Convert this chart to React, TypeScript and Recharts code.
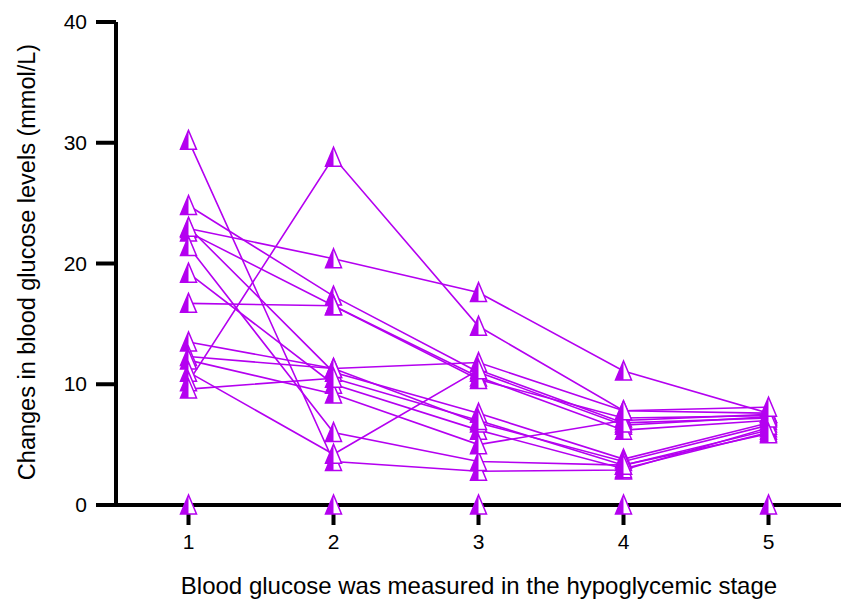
import React from 'react';
import { LineChart, Line, XAxis, YAxis, Label } from 'recharts';

// hypoglycemic stages on the x axis
const stages = [1, 2, 3, 4, 5];
const yTicks = [0, 10, 20, 30, 40];

// blood glucose (mmol/L) per subject, one value per stage
const subject01 = [30.2, 3.6, 2.8, 2.9, 6.4];
const subject02 = [24.8, 17.3, 11.0, 6.6, 7.3];
const subject03 = [22.9, 20.4, 17.6, 11.1, 7.6];
const subject04 = [22.6, 16.5, 10.6, 6.2, 7.0];
const subject05 = [23.0, 11.0, 7.6, 3.8, 6.8];
const subject06 = [21.4, 6.0, 3.6, 3.3, 6.2];
const subject07 = [19.2, 10.0, 6.2, 3.0, 6.0];
const subject08 = [16.7, 16.5, 10.4, 7.2, 7.4];
const subject09 = [13.5, 11.3, 6.8, 3.6, 6.6];
const subject10 = [12.3, 11.3, 11.8, 7.8, 7.6];
const subject11 = [12.0, 9.2, 5.0, 7.0, 7.5];
const subject12 = [11.0, 4.2, 11.2, 6.8, 7.2];
const subject13 = [10.2, 28.8, 14.8, 7.8, 8.1];
const subject14 = [9.6, 10.5, 7.0, 3.3, 5.9];
// markers sitting on the x axis
const baseline = [0, 0, 0, 0, 0];

const subjects = [
  subject01, subject02, subject03, subject04, subject05, subject06, subject07,
  subject08, subject09, subject10, subject11, subject12, subject13, subject14,
];

const PURPLE = '#B400F0';
const FONT = '"Liberation Sans", Arial, sans-serif';

const data = stages.map((stage, i) => {
  const row: Record<string, number> = { stage, zero: baseline[i] };
  subjects.forEach((s, j) => {
    row[`s${j}`] = s[i];
  });
  return row;
});

// triangle with the left half filled, like the original marker
function halfTriangle(props: any) {
  const { cx, cy, index, dataKey } = props;
  const k = `${dataKey}-${index}`;
  if (cx == null || cy == null) return <g key={k} />;
  const top = cy - 10;
  const base = cy + 9;
  const w = 8;
  return (
    <g key={k}>
      <polygon
        points={`${cx},${top} ${cx - w},${base} ${cx + w},${base}`}
        fill="#fff"
        stroke={PURPLE}
        strokeWidth={1.5}
      />
      <polygon points={`${cx},${top} ${cx - w},${base} ${cx},${base}`} fill={PURPLE} />
    </g>
  );
}

function xTick(props: any) {
  const { x, y, payload } = props;
  return (
    <text x={x} y={y + 12} textAnchor="middle" fontSize={21} fontFamily={FONT} fill="#000">
      {payload.value}
    </text>
  );
}

function yTick(props: any) {
  const { x, y, payload } = props;
  return (
    <text x={x} y={y + 7} textAnchor="end" fontSize={21} fontFamily={FONT} fill="#000">
      {payload.value}
    </text>
  );
}

export default function App() {
  return (
    <div style={{ width: 843, height: 600, background: '#fff' }}>
      <style>{'body{margin:0}'}</style>
      <LineChart
        width={843}
        height={600}
        data={data}
        margin={{ top: 22, right: 2, bottom: 0, left: 0 }}
      >
        <XAxis
          dataKey="stage"
          type="number"
          domain={[0.5, 5.5]}
          ticks={stages}
          height={95}
          axisLine={{ stroke: '#000', strokeWidth: 4 }}
          tickLine={{ stroke: '#000', strokeWidth: 4 }}
          tickSize={20}
          tickMargin={12}
          tick={xTick}
        >
          <Label
            content={() => (
              <text
                x={479}
                y={585}
                textAnchor="middle"
                dominantBaseline="central"
                fontSize={24}
                fontFamily={FONT}
                fill="#000"
              >
                Blood glucose was measured in the hypoglycemic stage
              </text>
            )}
          />
        </XAxis>
        <YAxis
          type="number"
          domain={[0, 40]}
          ticks={yTicks}
          width={116}
          axisLine={{ stroke: '#000', strokeWidth: 4 }}
          tickLine={{ stroke: '#000', strokeWidth: 4 }}
          tickSize={20}
          tickMargin={9}
          tick={yTick}
        >
          <Label
            content={() => (
              <text
                x={27}
                y={262}
                transform="rotate(-90 27 262)"
                textAnchor="middle"
                dominantBaseline="central"
                fontSize={23.5}
                fontFamily={FONT}
                fill="#000"
              >
                Changes in blood glucose levels (mmol/L)
              </text>
            )}
          />
        </YAxis>
        {subjects.map((_, j) => (
          <Line
            key={j}
            dataKey={`s${j}`}
            stroke={PURPLE}
            strokeWidth={1.6}
            dot={halfTriangle}
            activeDot={false}
            isAnimationActive={false}
          />
        ))}
        <Line
          dataKey="zero"
          stroke="none"
          dot={halfTriangle}
          activeDot={false}
          isAnimationActive={false}
        />
      </LineChart>
    </div>
  );
}
